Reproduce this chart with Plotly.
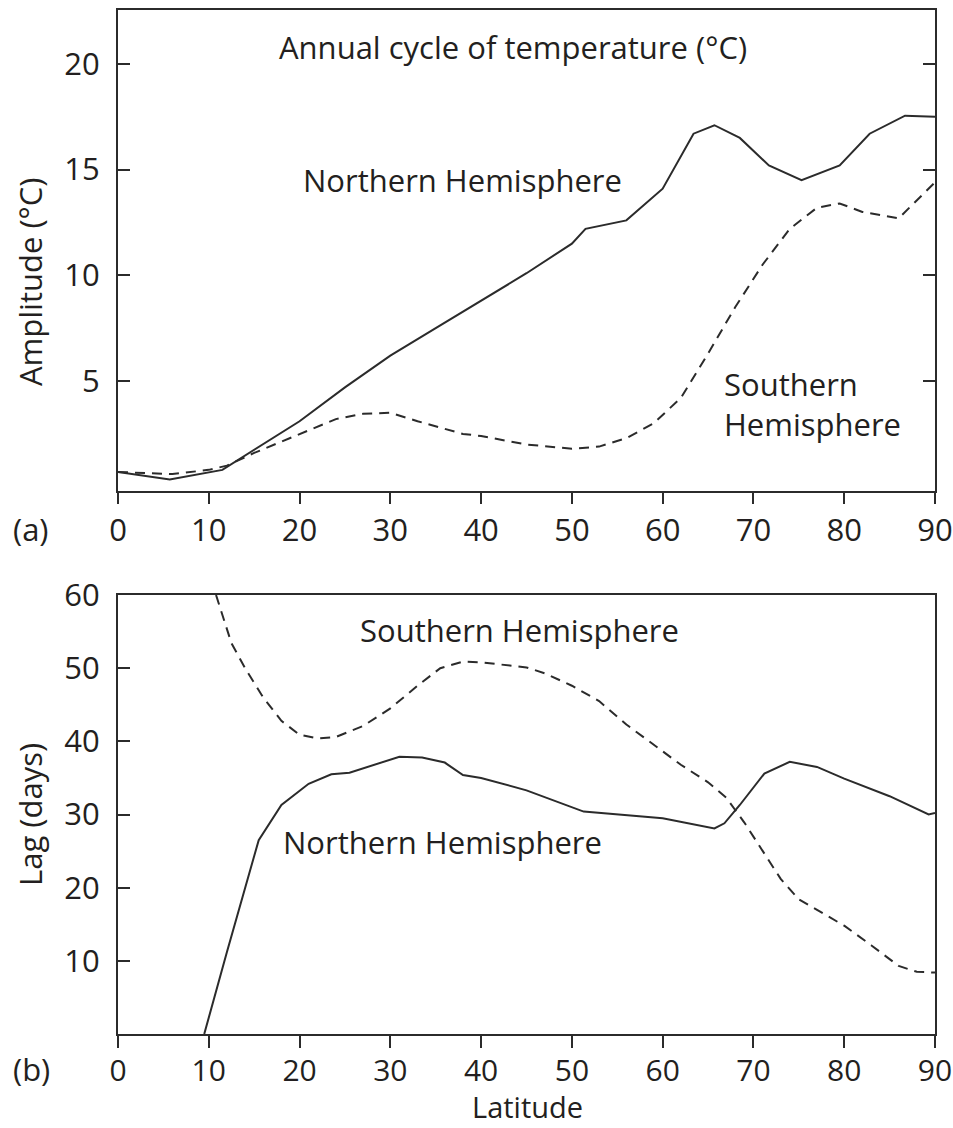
import plotly.graph_objects as go

# Panel (a): annual cycle amplitude (deg C) vs latitude
amp_nh_lat = [0, 5.7, 11.5, 17, 20, 25, 30, 35, 40, 45, 50, 51.5, 56, 60, 63.4, 65.7, 68.5, 71.7, 75.3, 79.5, 82.8, 86.7, 90]
amp_nh_val = [0.7, 0.35, 0.8, 2.3, 3.1, 4.7, 6.2, 7.5, 8.8, 10.1, 11.5, 12.2, 12.6, 14.1, 16.7, 17.1, 16.5, 15.2, 14.5, 15.2, 16.7, 17.55, 17.5]

amp_sh_lat = [0, 6, 10, 12, 15, 20, 24, 27, 30, 33, 38, 40, 45, 50, 53, 56, 59, 62, 65, 68, 71, 74, 77, 79.5, 82, 86, 90]
amp_sh_val = [0.7, 0.6, 0.8, 1.0, 1.6, 2.5, 3.2, 3.45, 3.5, 3.1, 2.5, 2.4, 2.0, 1.8, 1.9, 2.3, 3.0, 4.2, 6.3, 8.5, 10.5, 12.2, 13.2, 13.4, 13.0, 12.7, 14.4]

# Panel (b): phase lag (days) vs latitude
lag_nh_lat = [9.5, 12, 15.5, 18, 21, 23.5, 25.5, 31, 33.5, 36, 38, 40, 45, 51.3, 60, 65.7, 66.8, 68.5, 71.2, 74, 77, 80, 85, 89.3, 90]
lag_nh_val = [0, 11.2, 26.5, 31.3, 34.2, 35.5, 35.7, 37.9, 37.8, 37.1, 35.4, 35.0, 33.3, 30.4, 29.5, 28.1, 28.8, 31.3, 35.6, 37.2, 36.5, 34.9, 32.5, 30.0, 30.2]

lag_sh_lat = [10.8, 12.5, 14, 16, 18, 20, 22, 24, 27, 30, 33, 35.5, 38, 40, 45, 47, 50, 53, 56, 59, 62, 65, 67, 69, 71, 73, 75, 78, 80, 83, 86, 88, 90]
lag_sh_val = [60, 53.4, 50, 46, 42.8, 40.9, 40.4, 40.6, 42.1, 44.5, 47.6, 50, 50.9, 50.8, 50.1, 49.3, 47.6, 45.5, 42.3, 39.5, 36.8, 34.4, 32.3, 28.9, 25.1, 21.2, 18.4, 16.2, 14.8, 12.1, 9.3, 8.5, 8.4]

lat_ticks = [0, 10, 20, 30, 40, 50, 60, 70, 80, 90]
amp_ticks = [5, 10, 15, 20]
lag_ticks = [10, 20, 30, 40, 50, 60]

INK = "#231f20"
LINE = "#2b2b2b"
FONT = "Open Sans"
FS = 31

W, H = 953, 1128
ML, MR, MT, MB = 118, 18, 10, 94
PW, PH = W - ML - MR, H - MT - MB


def px(x):
    return (x - ML) / PW


def py(y):
    return (H - MB - y) / PH


fig = go.Figure()
fig.add_trace(go.Scatter(x=amp_nh_lat, y=amp_nh_val, mode="lines",
                         line=dict(color=LINE, width=2), xaxis="x", yaxis="y"))
fig.add_trace(go.Scatter(x=amp_sh_lat, y=amp_sh_val, mode="lines",
                         line=dict(color=LINE, width=2, dash="10px,7px"), xaxis="x", yaxis="y"))
fig.add_trace(go.Scatter(x=lag_nh_lat, y=lag_nh_val, mode="lines",
                         line=dict(color=LINE, width=2), xaxis="x2", yaxis="y2"))
fig.add_trace(go.Scatter(x=lag_sh_lat, y=lag_sh_val, mode="lines",
                         line=dict(color=LINE, width=2, dash="10px,7px"), xaxis="x2", yaxis="y2"))

axis_common = dict(showgrid=False, zeroline=False, showline=True, linecolor=LINE, linewidth=2,
                   tickcolor=LINE, tickwidth=2, automargin=False,
                   tickfont=dict(family=FONT, size=FS, color=INK))

top_dom = [py(491), 1.0]
bot_dom = [0.0, py(595)]

fig.update_layout(
    width=W, height=H,
    margin=dict(l=ML, r=MR, t=MT, b=MB, autoexpand=False),
    paper_bgcolor="white", plot_bgcolor="white",
    showlegend=False,
    font=dict(family=FONT, size=FS, color=INK),
    xaxis=dict(axis_common, domain=[0, 1], anchor="y", range=[0, 90], tickvals=lat_ticks,
               ticks="outside", ticklen=11, mirror=True, ticklabelstandoff=0),
    yaxis=dict(axis_common, domain=top_dom, anchor="x", range=[-0.2, 22.55], tickvals=amp_ticks,
               ticks="inside", ticklen=12, mirror="ticks", ticklabelstandoff=10),
    xaxis2=dict(axis_common, domain=[0, 1], anchor="y2", range=[0, 90], tickvals=lat_ticks,
                ticks="outside", ticklen=12, mirror=True, ticklabelstandoff=-3,
                tickfont=dict(family=FONT, size=30, color=INK)),
    yaxis2=dict(axis_common, domain=bot_dom, anchor="x2", range=[0, 60], tickvals=lag_ticks,
                ticks="inside", ticklen=12, mirror=True, ticklabelstandoff=10),
)

text_font = dict(family=FONT, size=FS, color=INK)
annotations = [
    dict(text="Annual cycle of temperature (°C)", xref="x", yref="y", x=43.5, y=20.8),
    dict(text="Northern Hemisphere", xref="x", yref="y", x=37.9, y=14.5),
    dict(text="Southern<br>Hemisphere", xref="x", yref="y", x=66.5, y=3.9,
         xanchor="left", align="left"),
    dict(text="Southern Hemisphere", xref="x2", yref="y2", x=44.2, y=55.2),
    dict(text="Northern Hemisphere", xref="x2", yref="y2", x=35.8, y=26.2),
    dict(text="(a)", xref="paper", yref="paper", x=px(31), y=py(529)),
    dict(text="(b)", xref="paper", yref="paper", x=px(31), y=py(1069)),
    dict(text="Latitude", xref="paper", yref="paper", x=px(527), y=py(1128),
         yanchor="bottom", font=dict(family=FONT, size=29, color=INK)),
    dict(text="Amplitude (°C)", xref="paper", yref="paper", x=px(30), y=py(282), textangle=-90),
    dict(text="Lag (days)", xref="paper", yref="paper", x=px(30), y=py(815), textangle=-90),
]
for a in annotations:
    a.setdefault("xanchor", "center")
    a.setdefault("yanchor", "middle")
    a.setdefault("font", text_font)
    fig.add_annotation(showarrow=False, **a)

fig.write_html("out.html")
